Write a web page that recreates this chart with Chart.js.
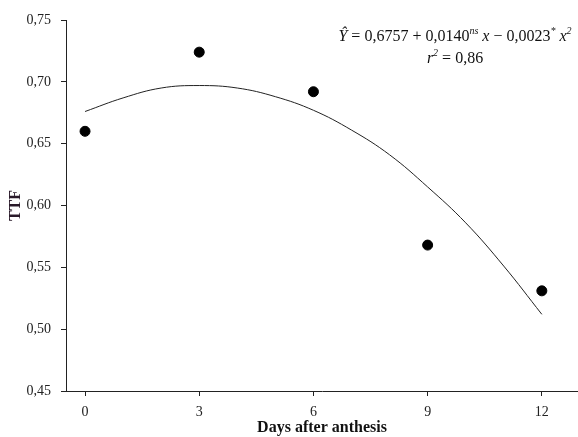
<!DOCTYPE html>
<html><head><meta charset="utf-8">
<script src="https://cdn.jsdelivr.net/npm/chart.js@4/dist/chart.umd.min.js"></script>
<style>html,body{margin:0;padding:0;background:#fff}#w{width:578px;height:437px}</style>
</head><body><div id="w"><canvas id="c" width="578" height="437"></canvas></div>
<script>
const days = [0, 3, 6, 9, 12];
const ttf = [0.660, 0.724, 0.692, 0.568, 0.531];
const fitDays = [0, 1, 2, 3, 4, 5, 6, 7, 8, 9, 10, 11, 12];
const fitTtf = [0.676, 0.687, 0.695, 0.697, 0.695, 0.688, 0.677, 0.661, 0.641, 0.615, 0.586, 0.551, 0.512];
const xTicks = [0, 3, 6, 9, 12];
const yTicks = [0.45, 0.50, 0.55, 0.60, 0.65, 0.70, 0.75];
const eqParts = [["Ŷ", "i"], [" = 0,6757 + 0,0140", "n"], ["ns", "s"], [" x", "i"], [" − 0,0023", "n"], ["*", "s"], [" x", "i"], ["2", "s"]];
const r2Parts = [["r", "i"], ["2", "s"], [" = 0,86", "n"]];

const F = "'Liberation Serif', 'Times New Roman', serif";
const eqPlugin = {
  id: 'eq',
  afterDraw(chart) {
    const ctx = chart.ctx;
    ctx.save();
    ctx.fillStyle = '#111';
    ctx.textBaseline = 'alphabetic';
    function setF(s) {
      if (s === 'i') ctx.font = 'italic 16px ' + F;
      else if (s === 's') ctx.font = 'italic 10px ' + F;
      else ctx.font = '16px ' + F;
    }
    function drawParts(parts, xStart, yBase) {
      let x = xStart;
      for (const [t, s] of parts) {
        setF(s);
        ctx.fillText(t, x, s === 's' ? yBase - 7 : yBase);
        x += ctx.measureText(t).width;
      }
    }
    function width(parts) {
      let w = 0;
      for (const [t, s] of parts) { setF(s); w += ctx.measureText(t).width; }
      return w;
    }
    const cx = 455;
    drawParts(eqParts, cx - width(eqParts) / 2, 41);
    drawParts(r2Parts, cx - width(r2Parts) / 2, 63);
    ctx.restore();
  }
};

new Chart(document.getElementById('c'), {
  type: 'scatter',
  data: {
    datasets: [
      {
        data: fitDays.map((d, i) => ({x: d, y: fitTtf[i]})),
        showLine: true, borderColor: '#222', borderWidth: 1, pointRadius: 0,
        tension: 0.4, order: 2
      },
      {
        data: days.map((d, i) => ({x: d, y: ttf[i]})),
        pointRadius: 5, pointBackgroundColor: '#000', pointBorderColor: '#000',
        showLine: false, order: 1
      }
    ]
  },
  options: {
    responsive: false, animation: false,
    layout: {autoPadding: false, padding: {top: 20, right: 0, left: 0, bottom: 0}},
    plugins: {legend: {display: false}, tooltip: {enabled: false}},
    scales: {
      x: {
        type: 'linear', min: -0.5, max: 12.95,
        afterBuildTicks(s) { s.ticks = xTicks.map(v => ({value: v})); },
        afterFit(s) { s.height = 46; s.paddingLeft = 0; s.paddingRight = 0; },
        grid: {drawOnChartArea: false, tickLength: 5, color: '#222', tickColor: '#222'},
        border: {color: '#222', width: 1},
        ticks: {color: '#222', padding: 8, font: {family: F, size: 14}, maxRotation: 0},
        title: {display: true, text: 'Days after anthesis', color: '#111', padding: {top: -4, bottom: 0}, font: {family: F, size: 16, weight: 'bold'}}
      },
      y: {
        min: 0.45, max: 0.75,
        afterBuildTicks(s) { s.ticks = yTicks.map(v => ({value: v})); },
        afterFit(s) { s.width = 66; },
        grid: {drawOnChartArea: false, tickLength: 5, color: '#222', tickColor: '#222'},
        border: {color: '#222', width: 1},
        ticks: {color: '#222', padding: 10, font: {family: F, size: 14}, callback: v => v.toFixed(2).replace('.', ',')},
        title: {display: true, text: 'TTF', color: '#2a1a2a', padding: {top: 6, bottom: 2}, font: {family: F, size: 16, weight: 'bold'}}
      }
    }
  },
  plugins: [eqPlugin]
});
</script></body></html>
